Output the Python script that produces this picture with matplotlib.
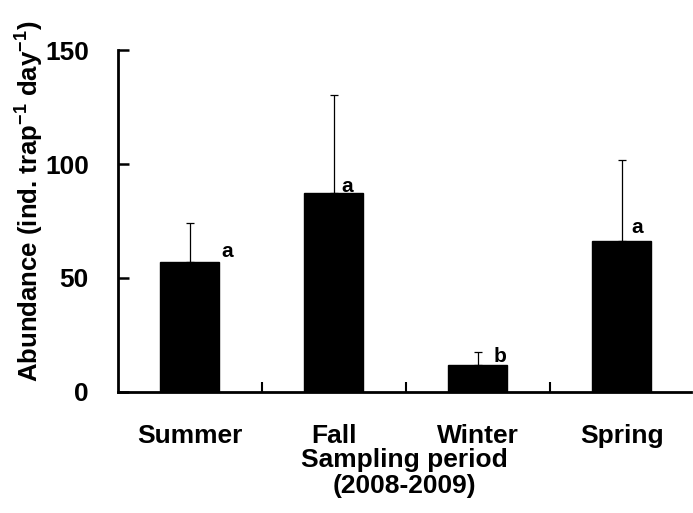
import matplotlib
matplotlib.use("Agg")
import matplotlib.pyplot as plt

plt.rcParams['font.family'] = ['Liberation Sans', 'DejaVu Sans']
plt.rcParams['font.weight'] = 'bold'
plt.rcParams['mathtext.fontset'] = 'custom'
plt.rcParams['mathtext.rm'] = 'Liberation Sans:bold'
plt.rcParams['mathtext.default'] = 'rm'

# donnees
saisons = ["Summer", "Fall", "Winter", "Spring"]
abondance = [57.0, 87.3, 11.8, 66.2]
erreur = [17.0, 43.0, 5.7, 35.6]
lettres = ["a", "a", "b", "a"]

fig = plt.figure(figsize=(6.93, 5.13), dpi=100)
ax = fig.add_axes([0.1703, 0.2359, 0.8267, 0.6666])

x = list(range(len(saisons)))
ax.bar(x, abondance, width=0.41, color='black', edgecolor='black')
ax.errorbar(x, abondance, yerr=[[0] * len(erreur), erreur], fmt='none',
            ecolor='black', elinewidth=0.9, capsize=3, capthick=0.9)

# lettres de significativite, a droite de la barre d'erreur
decal_x = [0.26, 0.09, 0.156, 0.104]
decal_y = [2.2, 0.4, 1.4, 3.5]
for i, (v, l) in enumerate(zip(abondance, lettres)):
    ax.text(i + decal_x[i], v + decal_y[i], l, ha='center', va='baseline',
            fontsize=15, fontweight='bold')

ax.set_xlim(-0.5, 3.48)
ax.set_ylim(0, 150)
ax.set_yticks([0, 50, 100, 150])

ax.set_xticks(x)
ax.set_xticklabels(saisons, fontsize=19)
ax.set_xticks([0.5, 1.5, 2.5], minor=True)
ax.tick_params(axis='x', which='major', length=0, pad=23)
ax.tick_params(axis='x', which='minor', direction='in', length=7, width=1.5)
ax.tick_params(axis='y', direction='in', length=8, width=1.8, labelsize=19, pad=21)

for s in ['top', 'right']:
    ax.spines[s].set_visible(False)
for s in ['left', 'bottom']:
    ax.spines[s].set_linewidth(2.0)

ax.set_xlabel("Sampling period\n(2008-2009)", fontsize=19, fontweight='bold',
              linespacing=1.1, labelpad=0)
ax.set_ylabel(r"Abundance (ind. trap$^{-1}$ day$^{-1}$)", fontsize=18.5,
              fontweight='bold')
ax.yaxis.set_label_coords(-0.125, 0.558)

fig.savefig("out.png", dpi=100)
